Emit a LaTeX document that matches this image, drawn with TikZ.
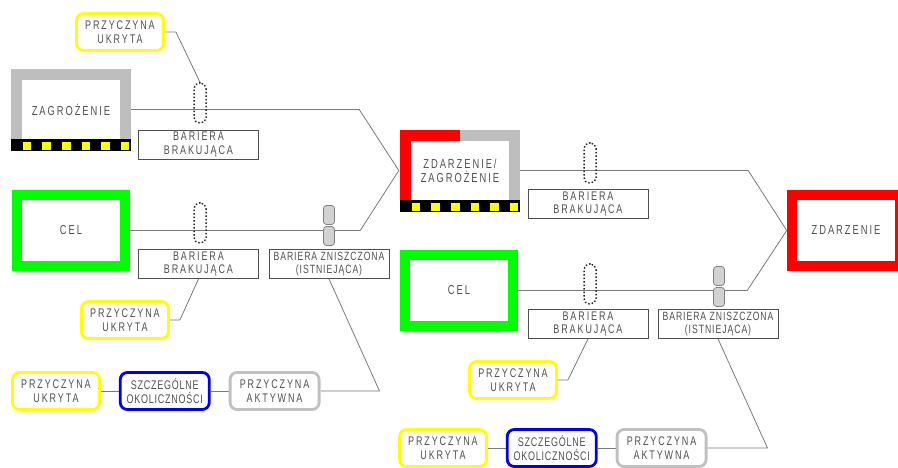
\documentclass[tikz,border=0pt]{standalone}
\usepackage{fontspec}
\setmainfont{Liberation Sans}[FakeStretch=0.72,LetterSpace=15]
\usetikzlibrary{positioning}
\definecolor{txtgray}{HTML}{505050}
\definecolor{linegray}{HTML}{7A7A7A}
\definecolor{framegray}{HTML}{BEBEBE}
\definecolor{celgreen}{HTML}{00FF00}
\definecolor{evred}{HTML}{FF0000}
\definecolor{latyel}{HTML}{FFFF00}
\definecolor{specblue}{HTML}{0000F0}
\definecolor{actgray}{HTML}{C0C0C0}
\pgfdeclarelayer{bg}
\pgfsetlayers{bg,main}

\begin{document}
\begin{tikzpicture}[x=1pt,y=-1pt,
    node distance=18pt,
    lbl/.style={font=\fontsize{12.5}{13.5}\selectfont,text=txtgray,align=center,inner sep=0pt},
    hazard/.style={lbl,font=\fontsize{13}{14}\selectfont,minimum width=98pt,minimum height=59pt},
    goalbox/.style={lbl,font=\fontsize{13}{14}\selectfont,draw=celgreen,line width=10.5pt,
                    minimum width=108pt,minimum height=71pt},
    evbox/.style={goalbox,draw=evred},
    barbox/.style={lbl,draw=txtgray,line width=0.8pt,minimum width=120pt,minimum height=29pt},
    tightbar/.style={font=\fontsize{12}{13}\selectfont\addfontfeature{LetterSpace=8}},
    cause/.style={lbl,line width=2.8pt,rounded corners=7pt,minimum width=87pt,minimum height=37pt},
    latentbox/.style={cause,draw=latyel},
    specialbox/.style={cause,draw=specblue,minimum width=89pt,
                       font=\fontsize{12.5}{13.5}\selectfont\addfontfeature{LetterSpace=6}},
    activebox/.style={cause,draw=actgray,minimum width=89pt},
    missbar/.style={draw=black!85,dotted,line width=1.5pt,rounded corners=5.5pt,
                    minimum width=12pt,minimum height=40pt,inner sep=0pt},
    brokenbar/.style={draw=gray,fill=gray!35,line width=0.8pt,rounded corners=3pt,
                      minimum width=11pt,minimum height=19pt,inner sep=0pt},
    link/.style={draw=linegray,line width=0.8pt}]
    \useasboundingbox (0,0) rectangle (898,468);

    % left half
    \node[latentbox] (puk1) at (120,32) {PRZYCZYNA\\UKRYTA};
    \node[hazard] (zag) at (71,109.5) {ZAGROŻENIE};
    \node[barbox] (bb1) at (198.5,144.5) {BARIERA\\BRAKUJĄCA};
    \node[goalbox] (cel1) at (71,230.5) {CEL};
    \node[barbox] (bb2) at (198.5,264) {BARIERA\\BRAKUJĄCA};
    \node[barbox,tightbar] (bz1) at (329,264) {BARIERA ZNISZCZONA\\(ISTNIEJĄCA)};
    \node[latentbox] (puk2) at (125,320) {PRZYCZYNA\\UKRYTA};
    \node[latentbox] (puk3) at (56,391) {PRZYCZYNA\\UKRYTA};
    \node[specialbox,right=of puk3] (szo1) {SZCZEGÓLNE\\OKOLICZNOŚCI};
    \node[activebox,right=of szo1] (pak1) {PRZYCZYNA\\AKTYWNA};
    \node[missbar] (mb1) at (200,103) {};
    \node[missbar] (mb2) at (200,223) {};
    \node[brokenbar] (zb1a) at (329,215) {};
    \node[brokenbar] (zb1b) at (329,236) {};

    % right half
    \node[hazard] (zz) at (460,170.5) {ZDARZENIE/\\ZAGROŻENIE};
    \node[barbox] (bb3) at (588,204) {BARIERA\\BRAKUJĄCA};
    \node[evbox] (zd) at (846,230.5) {ZDARZENIE};
    \node[goalbox] (cel2) at (459,290.5) {CEL};
    \node[barbox] (bb4) at (588,324) {BARIERA\\BRAKUJĄCA};
    \node[barbox,tightbar] (bz2) at (718,324) {BARIERA ZNISZCZONA\\(ISTNIEJĄCA)};
    \node[latentbox] (puk4) at (513,380) {PRZYCZYNA\\UKRYTA};
    \node[latentbox] (puk5) at (443,448) {PRZYCZYNA\\UKRYTA};
    \node[specialbox,right=of puk5] (szo2) {SZCZEGÓLNE\\OKOLICZNOŚCI};
    \node[activebox,right=of szo2] (pak2) {PRZYCZYNA\\AKTYWNA};
    \node[missbar] (mb3) at (590,163) {};
    \node[missbar] (mb4) at (590,284) {};
    \node[brokenbar] (zb2a) at (719,276) {};
    \node[brokenbar] (zb2b) at (719,297) {};

    % frames and hazard strips
    \draw[framegray,line width=11pt] ([xshift=-5.5pt]zag.south west) -- ([xshift=-5.5pt,yshift=5.5pt]zag.north west)
        -- ([xshift=5.5pt,yshift=5.5pt]zag.north east) -- ([xshift=5.5pt]zag.south east);
    \draw[evred,line width=11pt] ([xshift=-5.5pt]zz.south west) -- ([xshift=-5.5pt,yshift=5.5pt]zz.north west)
        -- ([yshift=5.5pt]zz.north);
    \draw[framegray,line width=11pt] ([yshift=5.5pt]zz.north) -- ([xshift=5.5pt,yshift=5.5pt]zz.north east)
        -- ([xshift=5.5pt]zz.south east);
    \foreach \n in {zag,zz}{
      \fill[black] ([xshift=-11pt]\n.south west) rectangle ([xshift=11pt,yshift=-12pt]\n.south east);
      \foreach \i in {0,...,5}
        \fill[latyel] ([xshift={1pt+19.6pt*\i},yshift=-3pt]\n.south west) rectangle ++(8.5pt,-7.5pt);
    }

    \begin{pgfonlayer}{bg}
      \coordinate (zzl) at ([xshift=-12pt]zz.west);
      \draw[link] (zag.east) -- ++(239,0) -- (zzl);
      \draw[link] (cel1.east) -- ++(230,0) -- (zzl);
      \draw[link] (zz.east) -- ++(239,0) -- (zd.west);
      \draw[link] (cel2.east) -- ++(229,0) -- (zd.west);
      \draw[link] (puk1.east) -- ++(11,0) -- (mb1.north);
      \draw[link] (bb2.south) -- ([xshift=10pt]puk2.east) -- (puk2.east);
      \draw[link] (bz1.south) -- ([xshift=59pt]pak1.east) -- (pak1.east);
      \draw[link] (puk3) -- (szo1) -- (pak1);
      \draw[link] (bb4.south) -- ([xshift=10pt]puk4.east) -- (puk4.east);
      \draw[link] (bz2.south) -- ([xshift=60pt]pak2.east) -- (pak2.east);
      \draw[link] (puk5) -- (szo2) -- (pak2);
    \end{pgfonlayer}
  \end{tikzpicture}
\end{document}
